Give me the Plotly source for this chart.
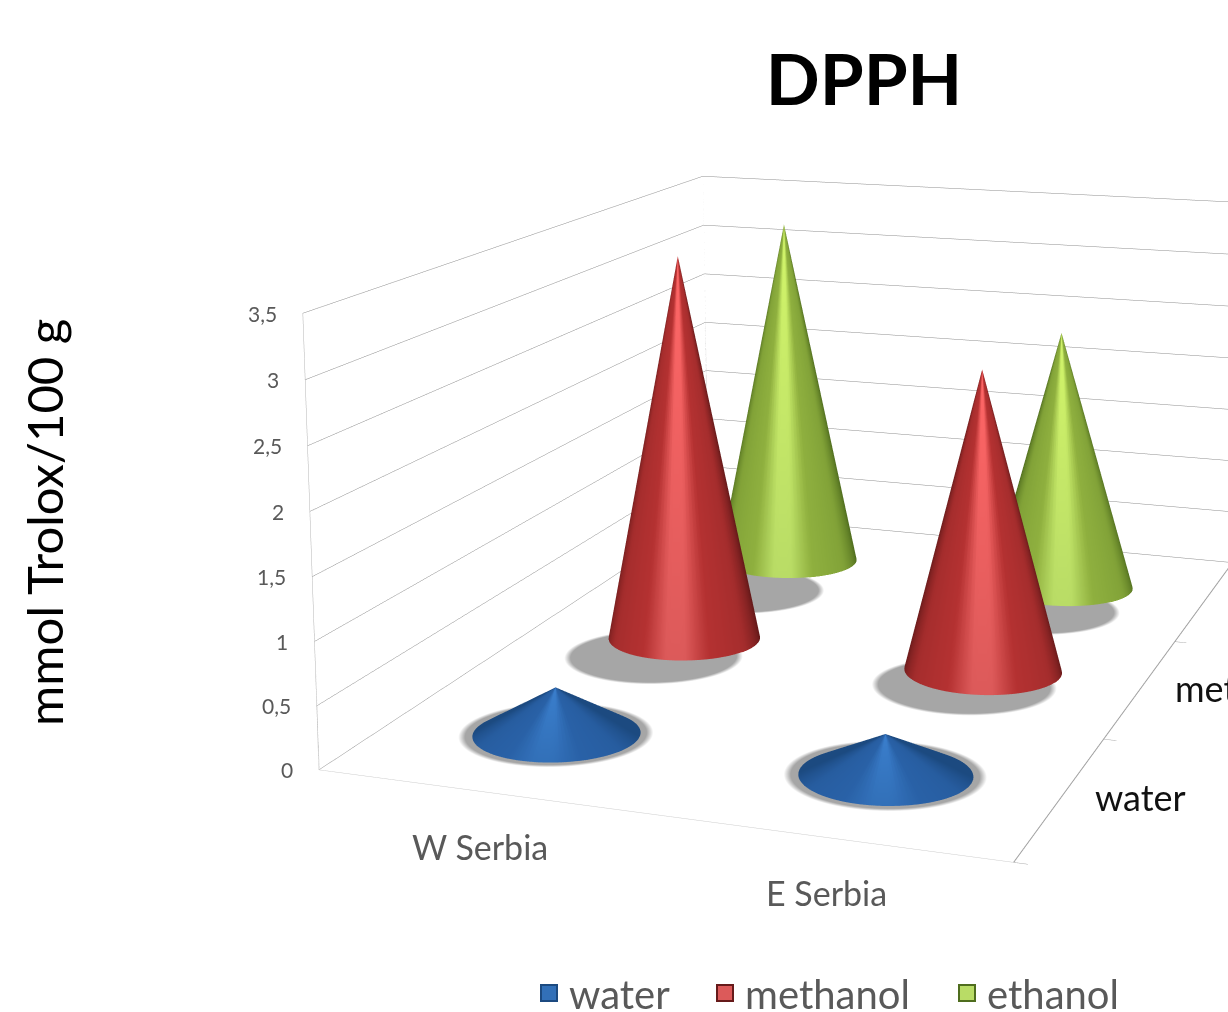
import numpy as np
import plotly.graph_objects as go

regions = ["W Serbia", "E Serbia"]
solvents = ["water", "methanol", "ethanol"]
water = [0.38, 0.32]
methanol = [3.38, 2.58]
ethanol = [3.27, 2.4]
z_ticks = [0, 0.5, 1, 1.5, 2, 2.5, 3, 3.5]
z_labels = ["0", "0,5", "1", "1,5", "2", "2,5", "3", "3,5"]
series = {"water": water, "methanol": methanol, "ethanol": ethanol}
# dark edge, mid body, base highlight, top highlight
palette = {
    "water": ("#1c4a80", "#2a62a8", "#3270b8", "#3a7ecc"),
    "methanol": ("#661a1a", "#b53232", "#dc5a5a", "#ff6666"),
    "ethanol": ("#4f6d1e", "#8fb03f", "#b9dc66", "#d2f56a"),
}
R = 0.245
N = 96
FONT = "Lato"

# The chart uses a long lens, so the drawing canvas is larger than the page and offset.
FIG_W, FIG_H, TOP, LEFT = 2052, 2015, -916, 5


def px(x):
    return (x - LEFT) / FIG_W


def py(y):
    return 1 - (y - TOP) / FIG_H


def rgb(c):
    return np.array([int(c[i:i + 2], 16) for i in (1, 3, 5)], float)


def ramp(dtheta, cols):
    stops = [0, 0.08, 0.28, 0.65, 1.0]
    t = min(abs(dtheta) / (np.pi / 2), 1.0)
    vals = [rgb(cols[2]), rgb(cols[2]), rgb(cols[1]), rgb(cols[1]) * 0.8 + rgb(cols[0]) * 0.2, rgb(cols[0])]
    c = [np.interp(t, stops, [v[k] for v in vals]) for k in range(3)]
    return "#%02x%02x%02x" % tuple(int(v) for v in c)


LIGHT = dict(ambient=1, diffuse=0, specular=0, roughness=1, fresnel=0)


def cone(ix, iy, h, cols):
    th = np.linspace(0, 2 * np.pi, N, endpoint=False)
    xs, ys, zs, vc, i, j, k = [], [], [], [], [], [], []
    for m, t in enumerate(th):
        d = (t + np.radians(75) + np.pi) % (2 * np.pi) - np.pi
        xs += [ix + R * np.cos(t), ix]
        ys += [iy + R * np.sin(t), iy]
        zs += [0, h]
        vc += [ramp(d, cols), ramp(d, (cols[0], cols[1], cols[3]))]
        n = (m + 1) % N
        i += [2 * m, 2 * m + 1]
        j += [2 * n, 2 * n]
        k += [2 * m + 1, 2 * n + 1]
    return go.Mesh3d(x=xs, y=ys, z=zs, i=i, j=j, k=k, vertexcolor=vc, flatshading=False,
                     hoverinfo="skip", showlegend=False, lighting=LIGHT)


def shadow(ix, iy, h):
    th = np.linspace(0, 2 * np.pi, N, endpoint=False)
    cx, cy = ix - 0.005 * h, iy - 0.065 * h * iy
    xs, ys, vc = [cx], [cy], ["#a6a6a6"]
    for rr, c in ((1.07, "#a6a6a6"), (1.15, "#ffffff")):
        xs += list(cx + rr * R * np.cos(th))
        ys += list(cy + rr * R * np.sin(th))
        vc += [c] * N
    i, j, k = [], [], []
    for m in range(N):
        n = (m + 1) % N
        i += [0, 1 + m, 1 + m]
        j += [1 + m, 1 + N + m, 1 + N + n]
        k += [1 + n, 1 + N + n, 1 + n]
    return go.Mesh3d(x=xs, y=ys, z=[0.003] * len(xs), i=i, j=j, k=k, vertexcolor=vc,
                     hoverinfo="skip", showlegend=False, lighting=LIGHT)


def edge(xs, ys, zs, color, width):
    return go.Scatter3d(x=xs, y=ys, z=zs, mode="lines", line=dict(color=color, width=width),
                        hoverinfo="skip", showlegend=False)


X0, X1, Y0, Y1 = -0.5, 1.5, -0.5, 2.5
Z1 = z_ticks[-1]

fig = go.Figure()
for iy, name in enumerate(solvents):
    for ix in range(len(regions)):
        fig.add_trace(shadow(ix, iy, series[name][ix]))
fig.add_trace(edge([X0, X0], [Y1, Y1], [0, Z1], "#d4d4d4", 2))
fig.add_trace(edge([X0, X0], [Y0, Y0], [0, Z1], "#d4d4d4", 2))
fig.add_trace(edge([X1, X1], [Y0, Y1], [0, 0], "#a0a0a0", 2))
for iy, name in reversed(list(enumerate(solvents))):
    for ix in range(len(regions)):
        fig.add_trace(cone(ix, iy, series[name][ix], palette[name]))

legend_x = {"water": 539, "methanol": 715, "ethanol": 957}
legend_keys = {"water": "legend", "methanol": "legend2", "ethanol": "legend3"}
legends = {}
for name in solvents:
    fig.add_trace(go.Scatter3d(x=[None], y=[None], z=[None], mode="markers", name=name,
                               legend=legend_keys[name], showlegend=True,
                               marker=dict(symbol="square", size=16, color=palette[name][2],
                                           line=dict(color=palette[name][0], width=2))))
    legends[legend_keys[name]] = dict(x=px(legend_x[name] - 10), y=py(993), yanchor="middle",
                                      xanchor="left", bgcolor="rgba(0,0,0,0)",
                                      font=dict(size=40, color="#595959", family=FONT))

scene_notes = []
for ix, name in enumerate(regions):
    scene_notes.append(dict(x=ix, y=Y0, z=0, text=name, showarrow=False, xshift=-1, yshift=-55,
                            font=dict(size=34, color="#595959", family=FONT)))
for iy, name in enumerate(solvents):
    scene_notes.append(dict(x=X1, y=iy, z=0, text=name, showarrow=False, xanchor="left", xshift=32,
                            font=dict(size=36, color="#111111", family=FONT)))
for v, label in zip(z_ticks, z_labels):
    scene_notes.append(dict(x=X0, y=Y0, z=v, text=label, showarrow=False, xanchor="right", xshift=-24,
                            font=dict(size=21, color="#595959", family=FONT)))

axis = dict(showbackground=True, backgroundcolor="white", gridcolor="#8c8c8c", gridwidth=1,
            linecolor="#b4b4b4", showline=True, zeroline=False, title="", showspikes=False)
fig.update_layout(
    width=FIG_W, height=FIG_H, margin=dict(l=0, r=0, t=0, b=0), paper_bgcolor="white",
    separators=",.", showlegend=True,
    scene=dict(
        domain=dict(x=[0, 1], y=[0, 1]),
        aspectmode="manual", aspectratio=dict(x=1.5674, y=1.9921, z=1.0),
        annotations=scene_notes,
        xaxis=dict(axis, range=[X0, X1], tickvals=[0, 1], showticklabels=False,
                   showgrid=False, ticks="", linecolor="#cccccc"),
        yaxis=dict(axis, range=[Y0, Y1], tickvals=[-0.5, 0.5, 1.5, 2.5], showticklabels=False,
                   showgrid=False, ticks="outside", ticklen=12, tickcolor="#a0a0a0", linecolor="#a0a0a0"),
        zaxis=dict(axis, range=[0, Z1], tickvals=z_ticks, showticklabels=False, ticks=""),
        camera=dict(eye=dict(x=2.1605, y=-5.35, z=1.5611), center=dict(x=0.187, y=1.0569, z=0.7726),
                    up=dict(x=0.0046, y=0, z=1), projection=dict(type="perspective")),
    ),
    title=dict(text="<b>DPPH</b>", x=px(864), xanchor="center", y=py(80), yanchor="middle",
               font=dict(size=71, color="black", family=FONT)),
    annotations=[dict(text="mmol Trolox/100 g", xref="paper", yref="paper", x=px(44), y=py(523),
                      xanchor="center", yanchor="middle", showarrow=False, textangle=-90,
                      font=dict(size=49, color="black", family=FONT))],
    **legends,
)
post = """
document.documentElement.style.overflow='hidden';
document.body.style.margin='0';document.body.style.overflow='hidden';
var g=document.getElementById('{plot_id}');
g.style.position='absolute';g.style.left='%dpx';g.style.top='%dpx';
""" % (LEFT, TOP)
fig.write_html("out.html", post_script=post)
